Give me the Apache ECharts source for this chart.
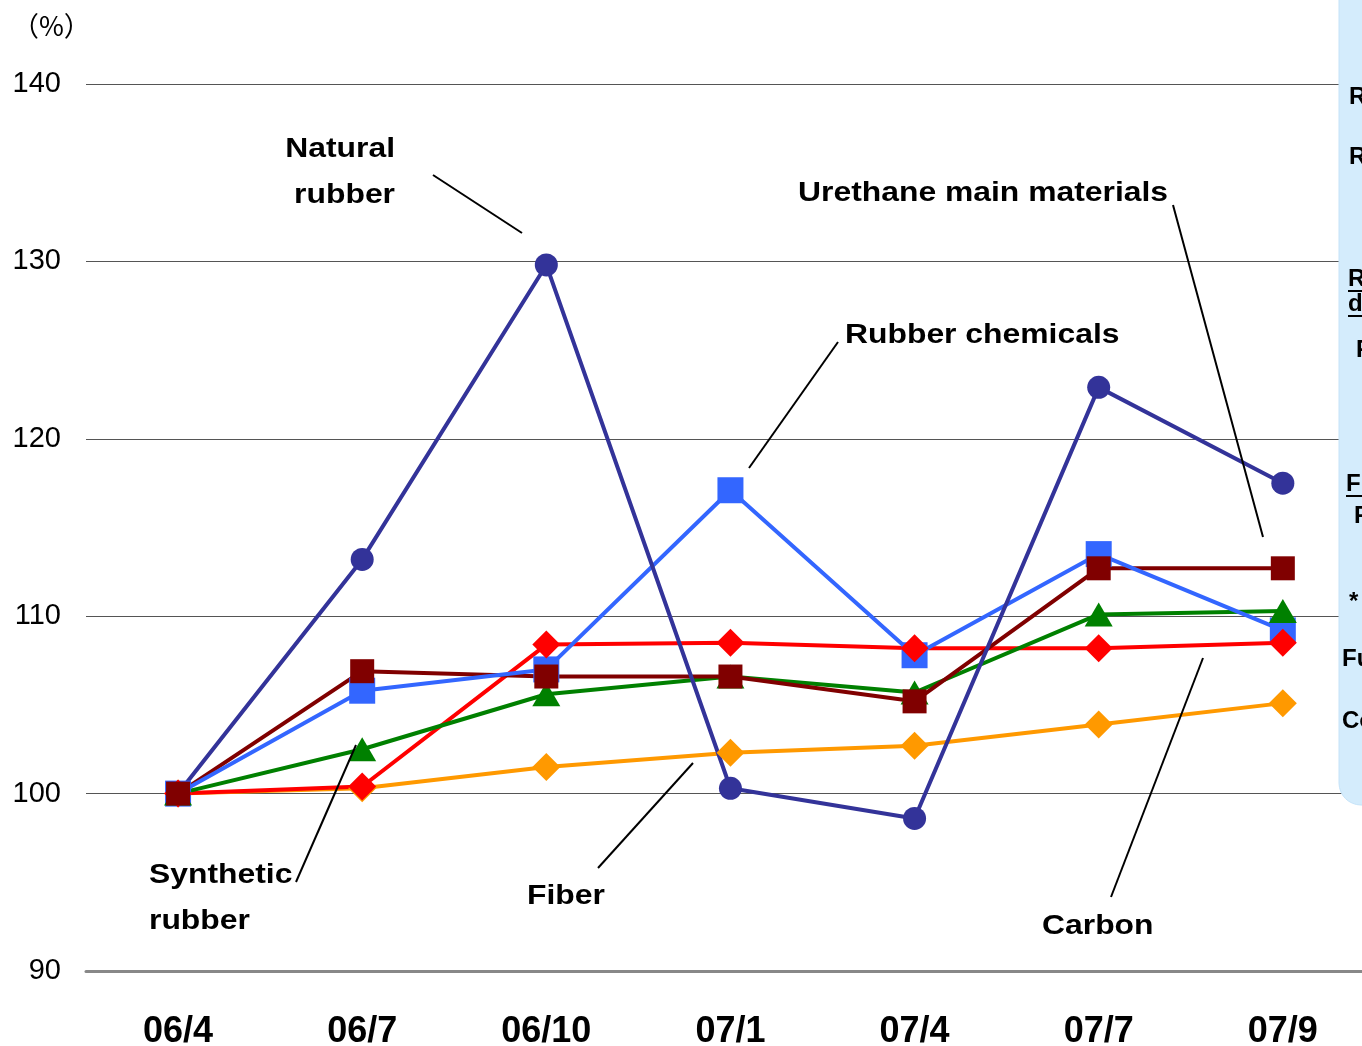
<!DOCTYPE html>
<html><head><meta charset="utf-8">
<style>html,body{margin:0;padding:0;background:#fff}#c{width:1362px;height:1046px}</style>
<script src="https://cdn.jsdelivr.net/npm/echarts@6/dist/echarts.min.js"></script>
</head><body><div id="c"></div>
<script>
const categories = ['06/4','06/7','06/10','07/1','07/4','07/7','07/9'];
const naturalRubber   = [100, 113.2, 129.8, 100.3, 98.6, 122.9, 117.5];
const rubberChemicals = [100, 105.8, 107.0, 117.1, 107.8, 113.5, 109.2];
const urethane        = [100, 106.9, 106.6, 106.6, 105.2, 112.7, 112.7];
const syntheticRubber = [100, 102.5, 105.6, 106.6, 105.7, 110.1, 110.3];
const carbon          = [100, 100.4, 108.4, 108.5, 108.2, 108.2, 108.5];
const fiber           = [100, 100.3, 101.5, 102.3, 102.7, 103.9, 105.1];
const yTicks = {min: 90, max: 140, interval: 10};

const FONT = '"Liberation Sans", Arial, sans-serif';
const chart = echarts.init(document.getElementById('c'));

const catIdx = categories.map((c, i) => i);
const pairs = arr => arr.map((v, i) => [catIdx[i], v]);

const defs = [
  {name:'Fiber', data:fiber, color:'#FF9900', symbol:'diamond', size:[28,28]},
  {name:'Rubber chemicals', data:rubberChemicals, color:'#3366FF', symbol:'rect', size:[26,26]},
  {name:'Synthetic rubber', data:syntheticRubber, color:'#008000', symbol:'triangle', size:[28,24]},
  {name:'Carbon', data:carbon, color:'#FF0000', symbol:'diamond', size:[28,28]},
  {name:'Urethane main materials', data:urethane, color:'#800000', symbol:'rect', size:[24,24]},
  {name:'Natural rubber', data:naturalRubber, color:'#333399', symbol:'circle', size:[23,23]}
];
const lineOrder = ['Fiber','Carbon','Synthetic rubber','Urethane main materials','Rubber chemicals','Natural rubber'];
const markerOrder = ['Natural rubber','Fiber','Rubber chemicals','Synthetic rubber','Carbon','Urethane main materials'];
const series = [];
lineOrder.forEach(n => {
  const d = defs.find(x => x.name === n);
  series.push({type:'line', name:n, data:pairs(d.data), showSymbol:false, symbol:'none', z:2,
    lineStyle:{color:d.color, width:4}, itemStyle:{color:d.color}, animation:false});
});
markerOrder.forEach(n => {
  const d = defs.find(x => x.name === n);
  series.push({type:'scatter', name:n+' markers', data:pairs(d.data), symbol:d.symbol, symbolSize:d.size, z:3,
    itemStyle:{color:d.color, opacity:1}, animation:false});
});

function ln(x1,y1,x2,y2){return {type:'line', z:20, shape:{x1,y1,x2,y2}, style:{stroke:'#000', lineWidth:2}};}
function tx(x,y,t,align){return {type:'text', z:20, x, y, scaleX:1.18, scaleY:1,
  style:{text:t, font:'bold 27px '+FONT, fill:'#000', textAlign:align||'left', textVerticalAlign:'middle', lineHeight:46}};}
function ptx(x,y,t,underline){
  const els=[{type:'text', z:31, x, y, style:{text:t, font:'bold 24px '+FONT, fill:'#000', textVerticalAlign:'middle'}}];
  if(underline) els.push({type:'line', z:31, shape:{x1:x, y1:y+12, x2:1362, y2:y+12}, style:{stroke:'#000', lineWidth:2}});
  return els;
}

const graphics = [
  {type:'text', z:20, x:12, y:26, style:{text:'（%）', font:'27px "Noto Sans CJK JP", sans-serif', fill:'#000', textVerticalAlign:'middle'}},
  tx(395,173,'Natural\nrubber','right'),
  ln(433,175,522,233),
  tx(798,194,'Urethane main materials','left'),
  ln(1173,205,1263,537),
  tx(845,336,'Rubber chemicals','left'),
  ln(838,342,749,468),
  tx(149,899,'Synthetic\nrubber','left'),
  ln(296,882,356,745),
  tx(527,897,'Fiber','left'),
  ln(598,868,693,763),
  tx(1042,927,'Carbon','left'),
  ln(1111,897,1203,658),
  {type:'rect', z:30, shape:{x:1339, y:-30, width:60, height:835, r:[0,0,0,22]},
   style:{fill:'#D4ECFC', stroke:'#C4E2F8', lineWidth:1}}
].concat(
  ptx(1349,97,'Rubber'), ptx(1349,157,'Raw'), ptx(1348,279,'Rubber',true), ptx(1348,304,'drugs',true),
  ptx(1356,350,'Prices'), ptx(1346,484,'Fiber',true), ptx(1354,516,'Prices'),
  ptx(1349,602,'* '), ptx(1342,659,'Fuel'), ptx(1342,721,'Coal')
);

chart.setOption({
  animation:false,
  grid:{left:86, right:0, top:84, bottom:75, containLabel:false, outerBoundsMode:'none'},
  xAxis:{type:'value', min:-0.5, max:6.43,
    axisLine:{show:true, onZero:false, lineStyle:{color:'#888', width:3}},
    axisTick:{show:false},
    axisLabel:{customValues:catIdx, formatter:v => categories[Math.round(v)] || '',
      fontFamily:FONT, fontSize:36, fontWeight:'bold', color:'#000', margin:43},
    splitLine:{show:false}},
  yAxis:{type:'value', min:yTicks.min, max:yTicks.max, interval:yTicks.interval,
    axisLine:{show:false}, axisTick:{show:false},
    axisLabel:{fontFamily:FONT, fontSize:29, color:'#000', margin:25},
    splitLine:{show:true, lineStyle:{color:'#555', width:1}}},
  series,
  graphic:graphics
});
</script></body></html>
